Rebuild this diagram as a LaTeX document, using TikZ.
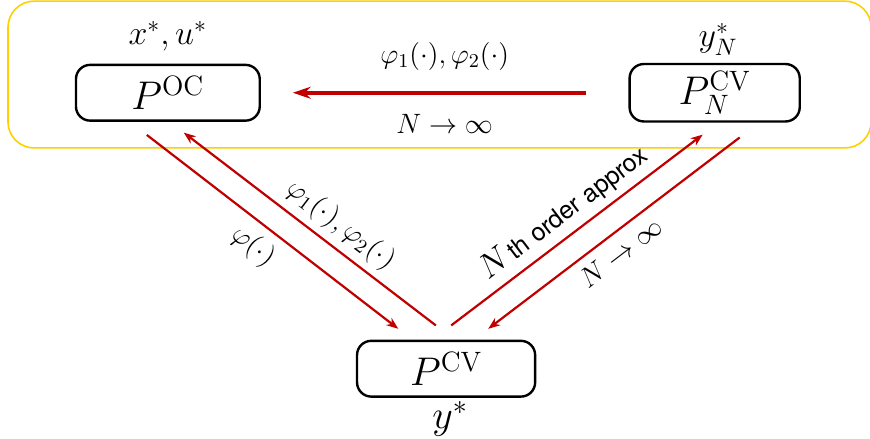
\RequirePackage{fix-cm}
\documentclass[tikz,border=0pt]{standalone}
\usepackage{fontspec}
\usepackage{xcolor}
\usetikzlibrary{arrows.meta,positioning}
\definecolor{ArrowRed}{HTML}{C00000}
\definecolor{FrameYellow}{HTML}{FFD000}
\newfontfamily\approxfont{TeX Gyre Heros}

\begin{document}
\begin{tikzpicture}[>=Stealth,
  prob/.style={draw,line width=1.2pt,rounded corners=0.25cm,minimum height=0.98cm,
    font=\fontsize{20}{24}\selectfont},
  sol/.style={font=\fontsize{17}{20}\selectfont},
  link/.style={-{Stealth[length=6pt,width=4.5pt]},color=ArrowRed,line width=1.1pt},
  lab/.style={text=black,font=\fontsize{14}{17}\selectfont}]
\useasboundingbox (0,0) rectangle (15.29,-7.70);
\draw[FrameYellow,line width=0.8pt,rounded corners=0.46cm] (0.14,-0.02) rectangle (15.31,-2.60);
\node[prob,minimum width=3.23cm] (oc) at (2.95,-1.63) {$P^{\mathrm{OC}}$};
\node[prob,minimum width=2.99cm] (pn) at (12.56,-1.63) {$P_N^{\mathrm{CV}}$};
\node[prob,minimum width=3.13cm] (cv) at (7.84,-6.48) {$P^{\mathrm{CV}}$};
\node[sol] (xu) at (2.95,-0.64) {$x^*,u^*$};
\node[sol] (yn) at (12.62,-0.69) {$y_N^*$};
\node[sol,font=\fontsize{20}{24}\selectfont] (ys) at (7.91,-7.36) {$y^*$};
% top row: truncated problem back to the original one
\draw[link,line width=2.2pt,-{Stealth[length=9pt,width=6pt]},shorten <=0.74cm,shorten >=0.56cm]
  (pn.west) -- (oc.east)
  node[lab,midway,above=0.24cm] {$\varphi_1(\cdot),\varphi_2(\cdot)$}
  node[lab,midway,below=0.22cm] {$N\to\infty$};
% left pair
\draw[link] ([shift={(-0.37,-0.23)}]oc.south) -- ([shift={(-0.84,0.19)}]cv.north)
  node[lab,sloped,below=1pt,pos=0.48] {$\varphi(\cdot)$};
\draw[link] ([shift={(-0.18,0.25)}]cv.north) -- ([shift={(0.28,-0.19)}]oc.south)
  node[lab,sloped,above,pos=0.43] {$\varphi_1(\cdot),\varphi_2(\cdot)$};
% right pair
\draw[link] ([shift={(0.09,0.25)}]cv.north) -- ([shift={(-0.21,-0.21)}]pn.south)
  node[lab,sloped,above=0pt,pos=0.5]
  {{\fontsize{17}{20}\selectfont$N$}\kern1.5pt{\approxfont\fontsize{12.5}{15}\selectfont th order approx}};
\draw[link] ([shift={(0.44,-0.26)}]pn.south) -- ([shift={(0.74,0.19)}]cv.north)
  node[lab,sloped,below=1pt,pos=0.52] {$N\to\infty$};
\end{tikzpicture}
\end{document}
